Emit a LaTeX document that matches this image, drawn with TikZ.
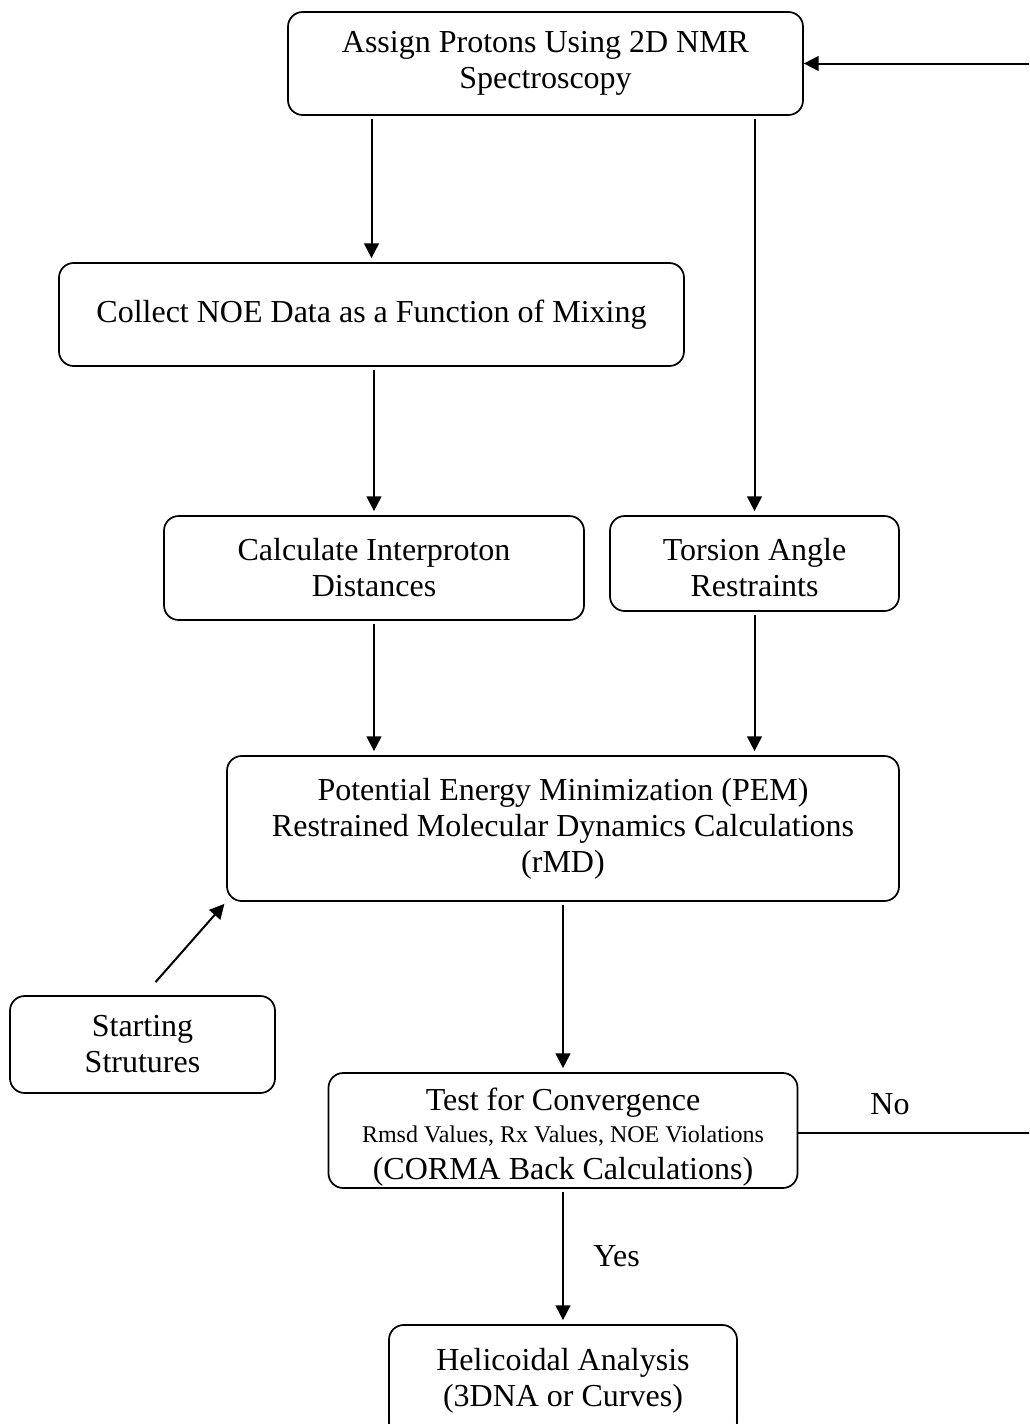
\documentclass[tikz,border=0pt]{standalone}
\usepackage{fontspec}
\setmainfont{Liberation Serif}
\usetikzlibrary{arrows.meta,calc}
\begin{document}
\begin{tikzpicture}[x=0.75pt,y=-0.75pt,
  box/.style={draw, line width=1.3pt, rounded corners=11pt, align=center, inner sep=0pt,
    font=\fontsize{24}{27}\selectfont},
  arr/.style={line width=1.5pt, -{Triangle[length=11pt,width=11pt]}},
  lbl/.style={font=\fontsize{24}{27}\selectfont, inner sep=0pt, align=center}]
\useasboundingbox (0,0) rectangle (1029,1424);
\clip (0,0) rectangle (1029,1424);
\node[box, minimum width=386.25pt, minimum height=77.25pt] (assign) at (545.5,63.5)
  {Assign Protons Using 2D NMR\\Spectroscopy};
\node[box, minimum width=468.75pt, minimum height=77.25pt] (collect) at (371.5,314.5)
  {Collect NOE Data as a Function of Mixing};
\node[box, minimum width=315pt, minimum height=78pt] (calc) at (374,568)
  {Calculate Interproton\\Distances};
\node[box, minimum width=216.75pt, minimum height=71.25pt] (torsion) at (754.5,563.5) {};
\node[lbl] (torsiontxt) at (754.5,568) {Torsion Angle\\Restraints};
\node[box, minimum width=504pt, minimum height=108.75pt] (pem) at (563,828.5)
  {Potential Energy Minimization (PEM)\\Restrained Molecular Dynamics Calculations\\(rMD)};
\node[box, minimum width=198.75pt, minimum height=72.75pt] (start) at (142.5,1044.5)
  {Starting\\Strutures};
\node[box, minimum width=351.75pt, minimum height=86.25pt] (test) at (563,1130.5) {};
\node[lbl] (testtxt) at (563,1137)
  {Test for Convergence\\[-3pt]{\fontsize{18}{20}\selectfont Rmsd Values, Rx Values, NOE Violations}\\[1pt](CORMA Back Calculations)};
\node[box, minimum width=261pt, minimum height=84pt] (helic) at (563,1381)
  {Helicoidal Analysis\\(3DNA or Curves)};

\draw[arr, shorten <=2pt, shorten >=3pt] (collect.north |- assign.south) -- (collect.north);
\draw[arr, shorten <=2pt, shorten >=3pt] (torsion.north |- assign.south) -- (torsion.north);
\draw[arr, shorten <=2pt, shorten >=3pt] (calc.north |- collect.south) -- (calc.north);
\draw[arr, shorten <=2pt, shorten >=3pt] (calc.south) -- (calc.south |- pem.north);
\draw[arr, shorten <=2pt, shorten >=3pt] (torsion.south) -- (torsion.south |- pem.north);
\draw[arr, shorten <=2pt, shorten >=3pt] (test.north |- pem.south) -- (test.north);
\draw[arr, shorten <=2pt, shorten >=3pt] (test.south) -- (helic.north)
  node[lbl, pos=0.5, right=22pt] (yes) {Yes};
\coordinate (startTip) at ($(start.north)+(13,-13)$);
\draw[arr, shorten >=2pt] (startTip) -- (pem.south west);
\coordinate (farRight) at (1060,1133);
\draw[arr] (test.east |- farRight) -- (farRight) |- (assign.east);
\node[lbl] (no) at (890,1104) {No};
\end{tikzpicture}
\end{document}
